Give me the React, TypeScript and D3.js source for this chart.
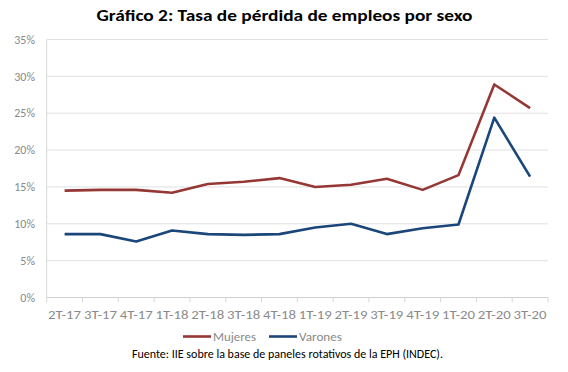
import React from "react";
import * as d3 from "d3";

const categories = ["2T-17","3T-17","4T-17","1T-18","2T-18","3T-18","4T-18","1T-19","2T-19","3T-19","4T-19","1T-20","2T-20","3T-20"];
const mujeres = [14.5,14.6,14.6,14.2,15.4,15.7,16.2,15.0,15.3,16.1,14.6,16.6,28.9,25.7];
const varones = [8.6,8.6,7.6,9.1,8.6,8.5,8.6,9.5,10.0,8.6,9.4,9.9,24.4,16.4];
const yTicks = [0,5,10,15,20,25,30,35];
const seriesNames = ["Mujeres","Varones"];
const colors = ["#953735","#1b467a"];

const W = 568, H = 372;
const left = 46.7, right = 548, top = 39.5, bottom = 297.5;

export default function App() {
  const x = d3.scaleBand<string>().domain(categories).range([left, right]);
  const y = d3.scaleLinear().domain([0, 35]).range([bottom, top]);
  const line = d3.line<number>()
    .x((_, i) => (x(categories[i]) as number) + x.bandwidth() / 2)
    .y((d) => y(d));
  const font = "Calibri, Carlito, 'Open Sans', sans-serif";
  return (
    <svg width={W} height={H} style={{ position: "absolute", left: 0, top: 0, background: "#fff" }}>
      <rect x={0} y={0} width={W} height={H} fill="#fff" />
      <text x={284.5} y={21} textAnchor="middle" fontFamily={font} fontWeight="bold" fontSize={16.5}
        textLength={376} lengthAdjust="spacingAndGlyphs" fill="#000">
        Gráfico 2: Tasa de pérdida de empleos por sexo
      </text>
      {yTicks.map((t) => (
        <g key={t}>
          <line x1={left} x2={right} y1={y(t)} y2={y(t)} stroke={t === 0 ? "#d0d0d0" : "#e0e0e0"} strokeWidth={1} />
          <text x={35} y={y(t)} dy="0.35em" textAnchor="end" fontFamily={font} fontSize={12} fill="#8a8a8a">{t}%</text>
        </g>
      ))}
      <line x1={left} x2={left} y1={top} y2={bottom + 5} stroke="#d9d9d9" strokeWidth={1} />
      {categories.map((c, i) => (
        <line key={"t" + i} x1={(x(c) as number) + x.bandwidth()} x2={(x(c) as number) + x.bandwidth()}
          y1={bottom} y2={bottom + 5} stroke="#d9d9d9" strokeWidth={1} />
      ))}
      {categories.map((c) => (
        <text key={c} x={(x(c) as number) + x.bandwidth() / 2} y={315} dy="0.35em" textAnchor="middle"
          fontFamily={font} fontSize={12} fill="#8a8a8a" textLength={33} lengthAdjust="spacingAndGlyphs">{c}</text>
      ))}
      {[mujeres, varones].map((s, k) => (
        <path key={k} d={line(s) as string} fill="none" stroke={colors[k]} strokeWidth={2.6} strokeLinejoin="round" />
      ))}
      {seriesNames.map((n, k) => {
        const lx = k === 0 ? 183 : 269;
        return (
          <g key={n}>
            <line x1={lx} x2={lx + 28} y1={336.5} y2={336.5} stroke={colors[k]} strokeWidth={2.6} />
            <text x={lx + 30} y={336.5} dy="0.35em" fontFamily={font} fontSize={12} fill="#8a8a8a"
              textLength={43} lengthAdjust="spacingAndGlyphs">{n}</text>
          </g>
        );
      })}
      <text x={287.5} y={353} dy="0.35em" textAnchor="middle" fontFamily={font} fontSize={13} fill="#000"
        textLength={311} lengthAdjust="spacingAndGlyphs">
        Fuente: IIE sobre la base de paneles rotativos de la EPH (INDEC).
      </text>
    </svg>
  );
}
